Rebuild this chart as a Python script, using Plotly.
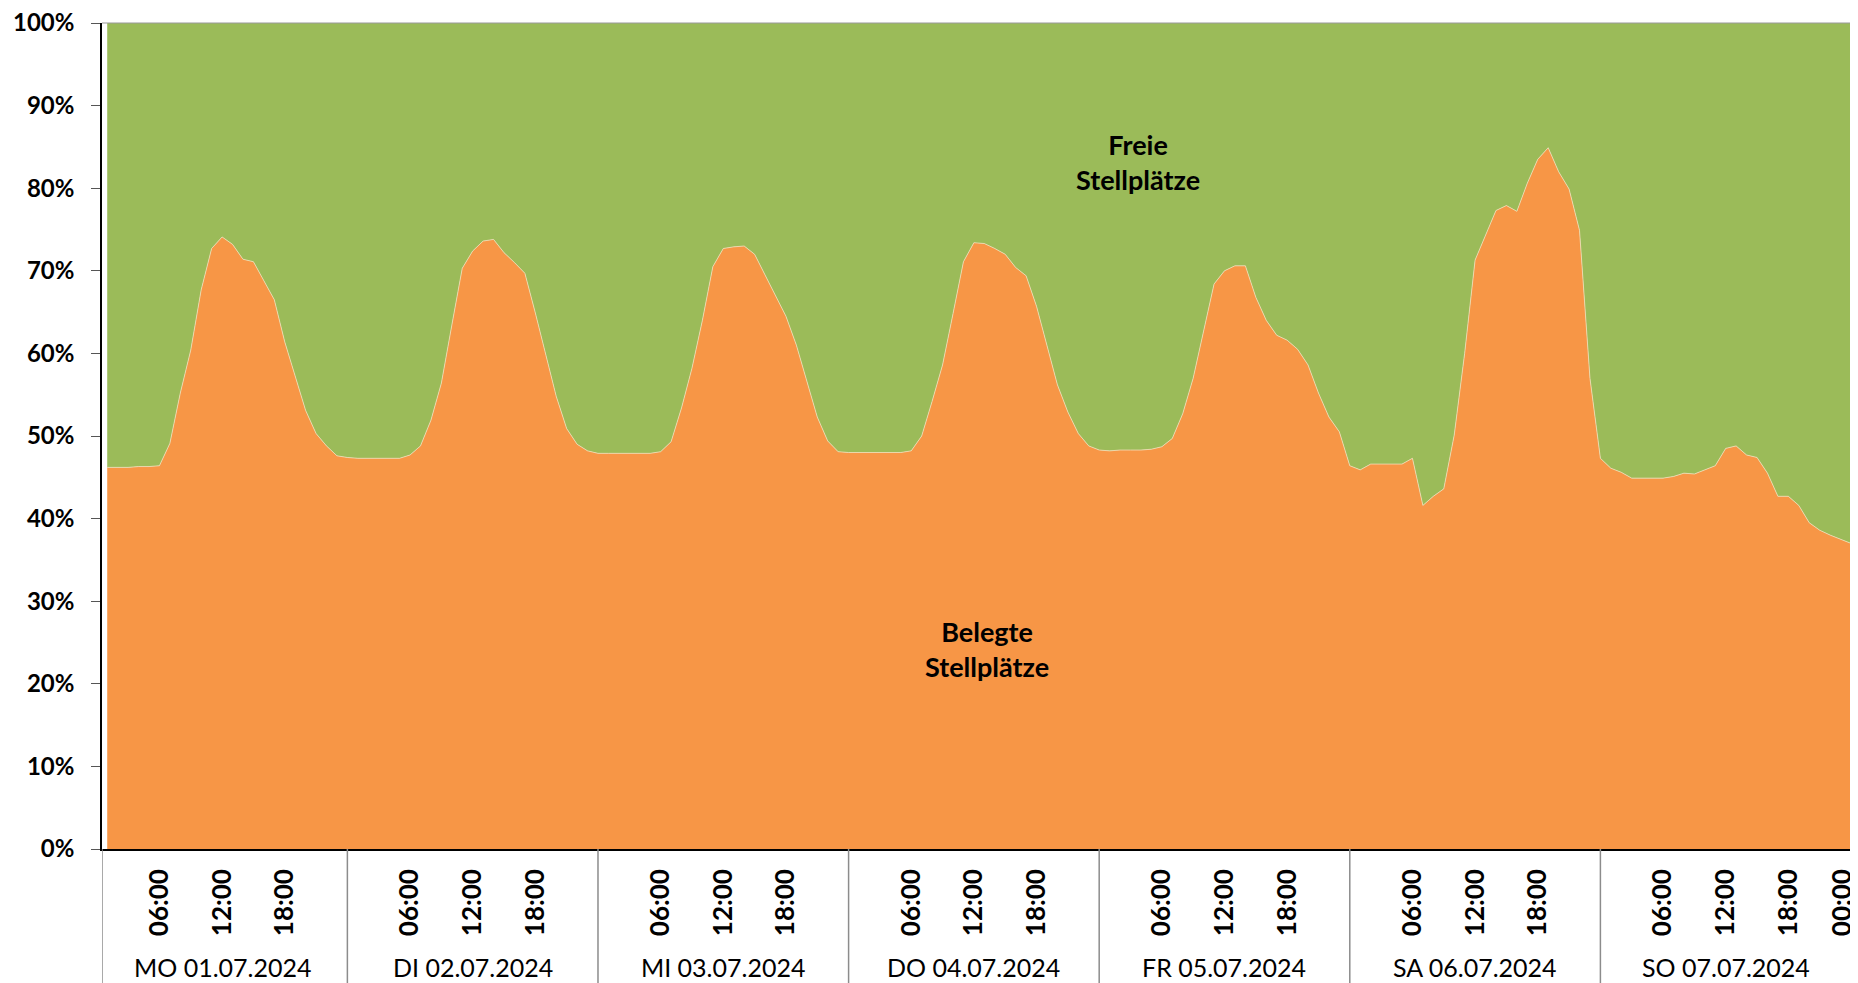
import plotly.graph_objects as go

# hourly occupancy (% of spaces occupied), 01:00 Mon ... 00:00 next Mon
hours = list(range(1, 169))
belegt = [
    46.2, 46.2, 46.2, 46.3, 46.3, 46.4, 49.1, 55.2, 60.4, 67.7, 72.7, 74.1,
    73.2, 71.4, 71.1, 68.8, 66.5, 61.4, 57.4, 53.1, 50.3, 48.8, 47.6, 47.4,
    47.3, 47.3, 47.3, 47.3, 47.3, 47.7, 48.8, 51.9, 56.4, 63.4, 70.3, 72.4,
    73.6, 73.8, 72.2, 71.0, 69.7, 64.9, 60.0, 54.8, 50.9, 49.0, 48.2, 47.9,
    47.9, 47.9, 47.9, 47.9, 47.9, 48.1, 49.3, 53.4, 58.2, 64.0, 70.5, 72.7,
    72.9, 73.0, 72.0, 69.5, 66.9, 64.5, 61.0, 56.8, 52.3, 49.4, 48.1, 48.0,
    48.0, 48.0, 48.0, 48.0, 48.0, 48.2, 50.0, 54.2, 58.6, 64.8, 71.1, 73.4,
    73.3, 72.7, 72.0, 70.4, 69.4, 65.7, 61.0, 56.2, 52.9, 50.3, 48.8, 48.3,
    48.2, 48.3, 48.3, 48.3, 48.4, 48.7, 49.7, 52.7, 57.0, 62.6, 68.4, 70.0,
    70.6, 70.6, 66.8, 64.0, 62.2, 61.6, 60.5, 58.6, 55.2, 52.3, 50.5, 46.4,
    45.9, 46.6, 46.6, 46.6, 46.6, 47.3, 41.6, 42.7, 43.6, 50.1, 60.0, 71.3,
    74.2, 77.3, 77.9, 77.2, 80.6, 83.5, 84.9, 82.0, 79.9, 74.9, 57.0, 47.3,
    46.1, 45.6, 44.9, 44.9, 44.9, 44.9, 45.1, 45.5, 45.4, 45.9, 46.4, 48.5,
    48.8, 47.7, 47.4, 45.5, 42.7, 42.7, 41.6, 39.5, 38.6, 38.0, 37.5, 37.0,
]
frei = [round(100 - v, 1) for v in belegt]

days = ["MO 01.07.2024", "DI 02.07.2024", "MI 03.07.2024", "DO 04.07.2024",
        "FR 05.07.2024", "SA 06.07.2024", "SO 07.07.2024"]
day_hours = ["06:00", "12:00", "18:00"]
end_label = "00:00"

tick_vals, tick_text = [], []
for d in range(len(days)):
    for lab in day_hours:
        tick_vals.append(24 * d + int(lab[:2]))
        tick_text.append(lab)
# final midnight label, nudged inside the right edge so it stays readable
tick_vals.append(24 * len(days) - 0.8)
tick_text.append(end_label)

ORANGE = "#F79646"
GREEN = "#9BBB59"
FONT = "Lato"

fig = go.Figure()
fig.add_trace(go.Scatter(
    x=hours, y=belegt, stackgroup="one", mode="lines",
    line=dict(width=0.8, color="#F2DDB8"), fillcolor=ORANGE,
    name="Belegte Stellplätze", showlegend=False))
fig.add_trace(go.Scatter(
    x=hours, y=frei, stackgroup="one", mode="lines",
    line=dict(width=0, color=GREEN), fillcolor=GREEN,
    name="Freie Stellplätze", showlegend=False))

shapes = []
# day separators below the axis
for d in range(len(days)):
    xs = 0.5 if d == 0 else 24 * d
    shapes.append(dict(type="line", xref="x", yref="paper", x0=xs, x1=xs,
                       y0=0, y1=-0.17, line=dict(color="#8c8c8c", width=1.5)))
# top border
shapes.append(dict(type="line", xref="paper", yref="paper", x0=0, x1=1,
                   y0=1, y1=1, line=dict(color="#9a9a9a", width=1.2)))

annotations = []
for d, name in enumerate(days):
    annotations.append(dict(x=24 * d + 12, y=-0.143, xref="x", yref="paper",
                            text=name, showarrow=False, yanchor="middle",
                            font=dict(family=FONT, size=25, color="black")))
annotations.append(dict(x=99.7, y=83.2, xref="x", yref="y",
                        text="<b>Freie<br>Stellplätze</b>", showarrow=False,
                        font=dict(family=FONT, size=27, color="black")))
annotations.append(dict(x=85.3, y=24.2, xref="x", yref="y",
                        text="<b>Belegte<br>Stellplätze</b>", showarrow=False,
                        font=dict(family=FONT, size=27, color="black")))

fig.update_layout(
    width=1850, height=975,
    margin=dict(l=94, r=7, t=15, b=134, autoexpand=False),
    paper_bgcolor="white", plot_bgcolor="white",
    shapes=shapes, annotations=annotations,
    xaxis=dict(range=[0.5, 168], tickvals=tick_vals, ticktext=tick_text,
               tickangle=-90, showgrid=False, zeroline=False, ticks="",
               showline=True, linecolor="black", linewidth=1.5,
               tickfont=dict(family=FONT, size=26, color="black", weight="bold"),
               ticklabelstandoff=8, ticklabeloverflow="allow", automargin=False),
    yaxis=dict(range=[0, 100], dtick=10, ticksuffix="%", showgrid=False,
               zeroline=False, ticks="outside", ticklen=9, tickcolor="#555555",
               showline=True, linecolor="black", linewidth=1.5,
               tickfont=dict(family=FONT, size=24, color="black", weight="bold"),
               ticklabelstandoff=12, ticklabeloverflow="allow", automargin=False),
    yaxis2=dict(range=[0, 100], dtick=10, overlaying="y", side="right",
                showgrid=False, zeroline=False, ticks="outside", ticklen=5,
                tickcolor="#999999", showline=True, linecolor="#9a9a9a",
                linewidth=1.2, showticklabels=False, automargin=False),
)

fig.write_html("out.html")
